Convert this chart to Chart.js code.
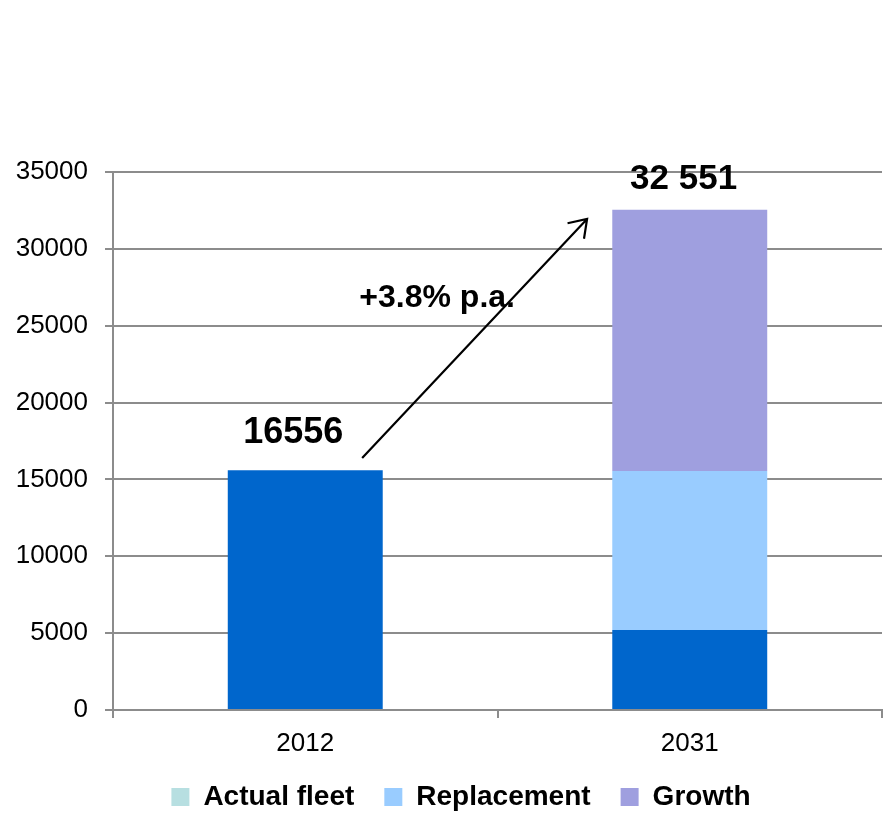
<!DOCTYPE html>
<html>
<head>
<meta charset="utf-8">
<script src="https://cdn.jsdelivr.net/npm/chart.js@4/dist/chart.umd.min.js"></script>
<style>
  html, body { margin: 0; padding: 0; background: #fff; }
  #wrap { width: 885px; height: 814px; }
</style>
</head>
<body>
<div id="wrap"><canvas id="myChart"></canvas></div>
<script>
const categories = ["2012", "2031"];
const actualFleet = [15600, 5200];
const replacement = [null, 10350];
const growth = [null, 17000];
const seriesNames = ["Actual fleet", "Replacement", "Growth"];
const barColors = ["#0066cc", "#99ccff", "#9f9fdf"];
const legendColors = ["#b7dfe1", "#99ccff", "#9f9fdf"];

// text notes: [text, category position, value, font size]
const notes = [
  ["16556", -0.031, 17370, 36],
  ["32 551", 0.984, 33895, 35],
  ["+3.8% p.a.", 0.343, 26200, 32],
];
// arrow from 2012 to 2031: [category position, value]
const arrowFrom = [0.148, 16394];
const arrowTo = [0.733, 31943];

const FONT = "'Liberation Sans', Arial, sans-serif";
const gridGray = "#8c8c8c";

const notesPlugin = {
  id: "notes",
  afterLayout(chart) {
    // legend sits a bit right of centre in the original
    chart.legend.left += 20;
    chart.legend.right += 20;
  },
  afterDatasetsDraw(chart) {
    const { ctx, scales: { x, y } } = chart;
    ctx.save();
    ctx.fillStyle = "#000";
    ctx.textAlign = "center";
    ctx.textBaseline = "alphabetic";
    notes.forEach(n => {
      ctx.font = "bold " + n[3] + "px " + FONT;
      ctx.fillText(n[0], x.getPixelForValue(n[1]), y.getPixelForValue(n[2]));
    });

    const x0 = x.getPixelForValue(arrowFrom[0]), y0 = y.getPixelForValue(arrowFrom[1]);
    const x1 = x.getPixelForValue(arrowTo[0]), y1 = y.getPixelForValue(arrowTo[1]);
    ctx.strokeStyle = "#000";
    ctx.lineWidth = 2.2;
    ctx.beginPath();
    ctx.moveTo(x0, y0);
    ctx.lineTo(x1, y1);
    const ang = Math.atan2(y1 - y0, x1 - x0);
    const head = 20;
    ctx.moveTo(x1 - head * Math.cos(ang - 0.6), y1 - head * Math.sin(ang - 0.6));
    ctx.lineTo(x1, y1);
    ctx.lineTo(x1 - head * Math.cos(ang + 0.6), y1 - head * Math.sin(ang + 0.6));
    ctx.stroke();
    ctx.restore();
  }
};

const data = {
  labels: categories,
  datasets: [
    { label: seriesNames[0], data: actualFleet, backgroundColor: barColors[0] },
    { label: seriesNames[1], data: replacement, backgroundColor: barColors[1] },
    { label: seriesNames[2], data: growth, backgroundColor: barColors[2] },
  ].map(d => Object.assign(d, { barPercentage: 0.403, categoryPercentage: 1, borderWidth: 0 })),
};

const options = {
  responsive: true,
  maintainAspectRatio: false,
  animation: false,
  layout: { padding: { top: 172, right: 3, left: 0, bottom: 0 } },
  plugins: {
    tooltip: { enabled: false },
    legend: {
      position: "bottom",
      maxHeight: 61,
      labels: {
        color: "#000",
        font: { family: FONT, size: 28, weight: "bold" },
        boxWidth: 18,
        boxHeight: 18,
        padding: 30,
        generateLabels(chart) {
          return chart.data.datasets.map((d, i) => ({
            text: d.label,
            fillStyle: legendColors[i],
            strokeStyle: legendColors[i],
            lineWidth: 0,
            hidden: false,
            datasetIndex: i,
          }));
        },
      },
    },
  },
  scales: {
    x: {
      stacked: true,
      afterFit(scale) { scale.height = 43; },
      grid: { drawOnChartArea: false, drawTicks: true, tickLength: 8, color: gridGray, lineWidth: 2, offset: true },
      border: { color: gridGray, width: 2 },
      ticks: { color: "#000", padding: 10, font: { family: FONT, size: 26 } },
    },
    y: {
      stacked: true,
      min: 0,
      max: 35000,
      afterFit(scale) { scale.width = 113; },
      grid: { color: gridGray, lineWidth: 2, tickLength: 8 },
      border: { color: gridGray, width: 2 },
      ticks: {
        stepSize: 5000,
        color: "#000",
        padding: 17,
        font: { family: FONT, size: 26 },
        callback: v => String(v),
      },
    },
  },
};

Chart.defaults.font.family = FONT;
const myChart = new Chart(document.getElementById("myChart"), {
  type: "bar",
  data,
  options,
  plugins: [notesPlugin],
});
</script>
</body>
</html>
